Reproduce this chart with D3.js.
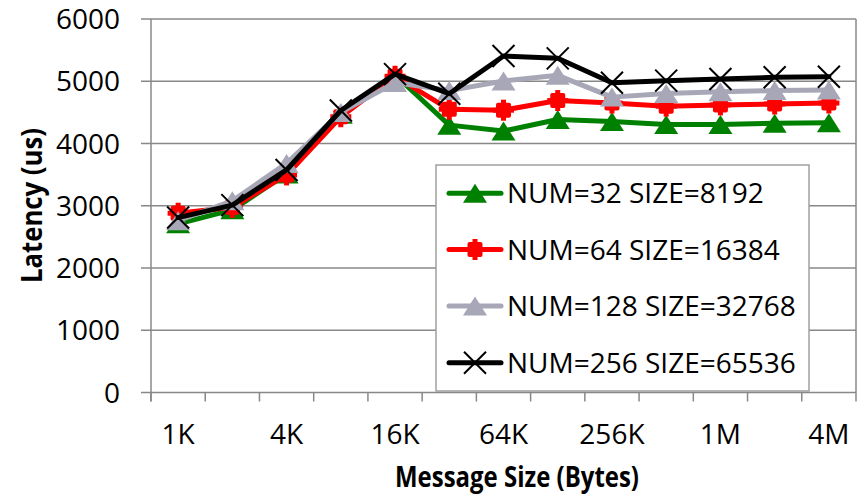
<!DOCTYPE html>
<html>
<head>
<meta charset="utf-8">
<script src="https://cdn.jsdelivr.net/npm/d3@7"></script>
<style>
  html, body { margin: 0; padding: 0; background: #fff; }
  svg { display: block; }
  text { font-family: "Open Sans", "Noto Sans", sans-serif; fill: #000; }
</style>
</head>
<body>
<svg id="chart" width="861" height="495"></svg>
<script>
// Message sizes along the x axis
const categories = ["1K", "2K", "4K", "8K", "16K", "32K", "64K", "128K", "256K", "512K", "1M", "2M", "4M"];
const xTickLabels = ["1K", "4K", "16K", "64K", "256K", "1M", "4M"];
const yTicks = [0, 1000, 2000, 3000, 4000, 5000, 6000];

// Latency (us) per configuration
const num32 = [2710, 2935, 3510, 4470, 5100, 4295, 4200, 4385, 4355, 4305, 4305, 4325, 4335];
const num64 = [2880, 2975, 3495, 4430, 5080, 4550, 4535, 4690, 4650, 4600, 4620, 4635, 4650];
const num128 = [2760, 3080, 3680, 4500, 4980, 4850, 5005, 5095, 4745, 4805, 4830, 4850, 4860];
const num256 = [2810, 3010, 3575, 4530, 5115, 4800, 5405, 5368, 4975, 5010, 5036, 5063, 5073];

const seriesNames = ["NUM=32 SIZE=8192", "NUM=64 SIZE=16384", "NUM=128 SIZE=32768", "NUM=256 SIZE=65536"];
const seriesColors = ["#008000", "#ff0000", "#a7a7b7", "#000000"];
const seriesMarkers = ["triangle", "plus", "triangle", "x"];
const seriesValues = [num32, num64, num128, num256];

const svg = d3.select("#chart");
const plot = { left: 151, right: 856, top: 19, bottom: 392.5 };

const x = d3.scaleBand().domain(categories).range([plot.left, plot.right]).paddingInner(0).paddingOuter(0);
const cx = c => x(c) + x.bandwidth() / 2;
const y = d3.scaleLinear().domain([0, 6000]).range([plot.bottom, plot.top]);

const gridColor = "#888888";

// Horizontal gridlines (with short ticks to the left of the axis)
svg.append("g")
  .selectAll("line")
  .data(yTicks)
  .join("line")
  .attr("x1", plot.left - 10)
  .attr("x2", plot.right)
  .attr("y1", d => y(d))
  .attr("y2", d => y(d))
  .attr("stroke", gridColor)
  .attr("stroke-width", 1.5);

// Plot area left and right edges
svg.append("line")
  .attr("x1", plot.left).attr("x2", plot.left)
  .attr("y1", plot.top).attr("y2", plot.bottom + 9)
  .attr("stroke", gridColor).attr("stroke-width", 1.5);
svg.append("line")
  .attr("x1", plot.right).attr("x2", plot.right)
  .attr("y1", plot.top).attr("y2", plot.bottom + 9)
  .attr("stroke", gridColor).attr("stroke-width", 1.5);

// X tick marks at category boundaries
const boundaries = categories.map(c => x(c));
svg.append("g")
  .selectAll("line")
  .data(boundaries)
  .join("line")
  .attr("x1", d => d).attr("x2", d => d)
  .attr("y1", plot.bottom).attr("y2", plot.bottom + 9)
  .attr("stroke", gridColor).attr("stroke-width", 1.5);

// Y tick labels
svg.append("g")
  .selectAll("text")
  .data(yTicks)
  .join("text")
  .attr("x", 120)
  .attr("y", d => y(d) + 10)
  .attr("text-anchor", "end")
  .attr("font-size", 28)
  .text(d => d);

// X tick labels (every other category)
svg.append("g")
  .selectAll("text")
  .data(xTickLabels)
  .join("text")
  .attr("x", d => cx(d))
  .attr("y", 443.5)
  .attr("text-anchor", "middle")
  .attr("font-size", 28)
  .text(d => d);

// Axis titles
svg.append("text")
  .attr("x", 517)
  .attr("y", 487)
  .attr("text-anchor", "middle")
  .attr("font-size", 28)
  .attr("font-weight", "bold")
  .attr("textLength", 244)
  .attr("lengthAdjust", "spacingAndGlyphs")
  .text("Message Size (Bytes)");

svg.append("text")
  .attr("transform", "translate(42,205.5) rotate(-90)")
  .attr("text-anchor", "middle")
  .attr("font-size", 28)
  .attr("font-weight", "bold")
  .attr("textLength", 155)
  .attr("lengthAdjust", "spacingAndGlyphs")
  .text("Latency (us)");

// Marker drawing
function drawMarker(g, type, color, px, py) {
  if (type === "triangle") {
    const w = 24, h = 19;
    g.append("path")
      .attr("d", `M${px},${py - h / 2}L${px + w / 2},${py + h / 2}L${px - w / 2},${py + h / 2}Z`)
      .attr("fill", color);
  } else if (type === "plus") {
    g.append("rect").attr("x", px - 7.5).attr("y", py - 7.5).attr("width", 15).attr("height", 15)
      .attr("rx", 2).attr("fill", color);
    g.append("rect").attr("x", px - 2.5).attr("y", py - 10.5).attr("width", 5).attr("height", 21).attr("fill", color);
    g.append("rect").attr("x", px - 10.5).attr("y", py - 2.5).attr("width", 21).attr("height", 5).attr("fill", color);
  } else if (type === "x") {
    const r = 11;
    g.append("path")
      .attr("d", `M${px - r},${py - r}L${px + r},${py + r}M${px - r},${py + r}L${px + r},${py - r}`)
      .attr("stroke", color).attr("stroke-width", 2).attr("fill", "none");
  }
}

const line = d3.line()
  .x((d, i) => cx(categories[i]))
  .y(d => y(d));

// Series lines and markers, drawn in order so the last series sits on top
seriesValues.forEach((vals, s) => {
  const g = svg.append("g");
  g.append("path")
    .datum(vals)
    .attr("d", line)
    .attr("fill", "none")
    .attr("stroke", seriesColors[s])
    .attr("stroke-width", 5)
    .attr("stroke-linejoin", "round")
    .attr("stroke-linecap", "round");
  vals.forEach((v, i) => drawMarker(g, seriesMarkers[s], seriesColors[s], cx(categories[i]), y(v)));
});

// Legend
const legend = svg.append("g");
legend.append("rect")
  .attr("x", 436).attr("y", 165)
  .attr("width", 373).attr("height", 226)
  .attr("fill", "#fff")
  .attr("stroke", "#a0a0a0")
  .attr("stroke-width", 1.5);

const legendRows = [193.3, 249.5, 306, 362.7];
seriesNames.forEach((name, s) => {
  const ry = legendRows[s];
  const g = legend.append("g");
  g.append("line")
    .attr("x1", 449).attr("x2", 501)
    .attr("y1", ry).attr("y2", ry)
    .attr("stroke", seriesColors[s])
    .attr("stroke-width", 5)
    .attr("stroke-linecap", "round");
  drawMarker(g, seriesMarkers[s], seriesColors[s], 475, ry);
  g.append("text")
    .attr("x", 507)
    .attr("y", ry + 10)
    .attr("font-size", 28)
    .text(name);
});
</script>
</body>
</html>
